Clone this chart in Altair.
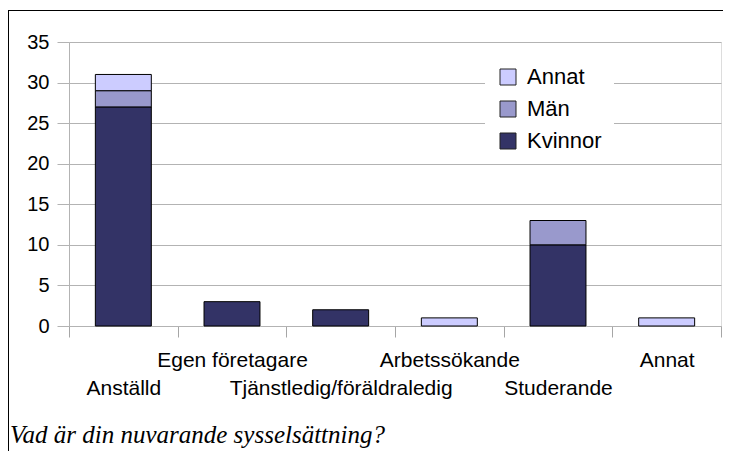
import json
import altair as alt
import pandas as pd

# ---- data ----
categories = ["Anställd", "Egen företagare", "Tjänstledig/föräldraledig",
              "Arbetssökande", "Studerande", "Annat"]
kvinnor = [27, 3, 2, 0, 10, 0]
man = [2, 0, 0, 0, 3, 0]
annat = [2, 0, 0, 1, 0, 1]
series = ["Annat", "Män", "Kvinnor"]          # legend order (top to bottom)
stack_order = {"Kvinnor": 0, "Män": 1, "Annat": 2}
colors = ["#ccccff", "#9999cc", "#333366"]
y_ticks = [0, 5, 10, 15, 20, 25, 30, 35]
title_text = "Vad är din nuvarande sysselsättning?"

rows = []
for i, c in enumerate(categories):
    for s, vals in (("Kvinnor", kvinnor), ("Män", man), ("Annat", annat)):
        if vals[i] > 0:
            rows.append({"kategori": c, "serie": s, "antal": vals[i], "ord": stack_order[s]})
df = pd.DataFrame(rows)

lower_row = categories[0::2]
label_expr = ("indexof(" + json.dumps(lower_row, ensure_ascii=False) +
              ", datum.value) >= 0 ? ['', datum.label] : datum.label")

GRAY = "#b3b3b3"
W, H = 652, 284

bars = alt.Chart(df).mark_bar(stroke="#000000", strokeWidth=1,
                              width=alt.RelativeBandSize(0.515)).encode(
    x=alt.X("kategori:N", sort=categories,
            scale=alt.Scale(domain=categories, paddingInner=0, paddingOuter=0),
            axis=alt.Axis(title=None, labelAngle=0, labelExpr=label_expr,
                          labelFont="Liberation Sans", labelFontSize=21, labelColor="black",
                          labelPadding=12, labelLineHeight=28, labelLimit=400,
                          labelOverlap=False, labelBaseline="top",
                          ticks=True, tickBand="extent", tickSize=11, tickWidth=1,
                          tickColor="#a6a6a6", tickOpacity=1,
                          domainColor=GRAY, grid=False)),
    y=alt.Y("antal:Q", stack="zero",
            scale=alt.Scale(domain=[0, 35], nice=False),
            axis=alt.Axis(title=None, values=y_ticks, labelFont="Liberation Sans",
                          labelFontSize=20, labelColor="black", labelPadding=8,
                          tickSize=12, tickColor=GRAY, domainColor=GRAY,
                          gridColor=GRAY)),
    color=alt.Color("serie:N", scale=alt.Scale(domain=series, range=colors),
                    legend=alt.Legend(title=None, orient="none", legendX=416, legendY=12,
                                      padding=12, fillColor="white",
                                      symbolType="square", symbolSize=256,
                                      symbolStrokeColor="#222222", symbolStrokeWidth=1,
                                      symbolOpacity=1,
                                      labelFont="Liberation Sans", labelFontSize=22,
                                      labelColor="black", labelOffset=8, rowPadding=10)),
    order=alt.Order("ord:Q", sort="ascending"),
)

one = alt.Data(values=[{}])
frame_top = alt.Chart(one).mark_rule(color="black", strokeWidth=1).encode(
    x=alt.value(-61), x2=alt.value(W + 2), y=alt.value(-31.5))
frame_left = alt.Chart(one).mark_rule(color="black", strokeWidth=1).encode(
    x=alt.value(-60.5), y=alt.value(-31.5), y2=alt.value(420))

title = alt.Chart(alt.Data(values=[{"t": title_text}])).mark_text(
    font="Liberation Serif", fontStyle="italic", fontSize=25, color="black",
    align="left", baseline="alphabetic").encode(
    text="t:N", x=alt.value(-59), y=alt.value(401))

chart = alt.layer(bars, frame_top, frame_left, title).properties(
    width=W, height=H,
    autosize=alt.AutoSizeParams(type="none"),
    padding={"left": 61, "top": 34, "right": 2, "bottom": 125},
).configure_view(stroke=GRAY).configure(background="white")

chart.save("out.html", embed_options={"renderer": "svg", "actions": False})
